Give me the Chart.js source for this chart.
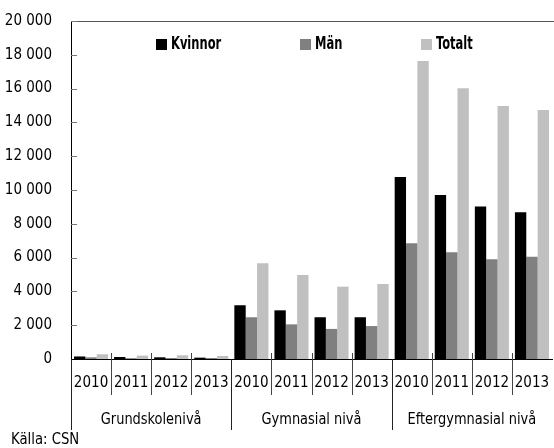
<!DOCTYPE html>
<html>
<head>
<meta charset="utf-8">
<script src="https://cdn.jsdelivr.net/npm/chart.js@4/dist/chart.umd.min.js"></script>
<style>
html,body{margin:0;padding:0;background:#fff;}
#wrap{position:relative;width:554px;height:448px;}
</style>
</head>
<body>
<div id="wrap"><canvas id="c" width="554" height="448"></canvas></div>
<script>
const years = ['2010','2011','2012','2013','2010','2011','2012','2013','2010','2011','2012','2013'];
const groups = ['Grundskolenivå','Gymnasial nivå','Eftergymnasial nivå'];
const seriesNames = ['Kvinnor','Män','Totalt'];
const kvinnor = [150,120,100,80, 3180,2880,2470,2470, 10770,9700,9030,8680];
const man     = [100,50,60,60, 2470,2050,1780,1950, 6850,6310,5900,6050];
const totalt  = [280,200,220,180, 5660,4970,4280,4440, 17630,16020,14970,14730];
const yTicks = [0,2000,4000,6000,8000,10000,12000,14000,16000,18000,20000];
const source = 'Källa: CSN';

const FONT = "'Liberation Sans Narrow','DejaVu Sans Condensed','Arial Narrow',sans-serif";
const colors = ['#000000','#808080','#c0c0c0'];

function fmt(v){ return String(v).replace(/\B(?=(\d{3})+(?!\d))/g,' '); }

function narrowText(ctx, text, x, y, sx, align){
  ctx.save();
  ctx.translate(x, y);
  ctx.scale(sx, 1);
  ctx.textAlign = align;
  ctx.fillText(text, 0, 0);
  ctx.restore();
}

const decor = {
  id:'decor',
  afterDraw(chart){
    const ctx = chart.ctx, a = chart.chartArea, x = chart.scales.x, y = chart.scales.y;
    ctx.save();
    // top border
    ctx.strokeStyle = '#555';
    ctx.lineWidth = 1;
    ctx.beginPath(); ctx.moveTo(a.left, Math.round(a.top)+0.5); ctx.lineTo(chart.width, Math.round(a.top)+0.5); ctx.stroke();
    // y ticks inside
    ctx.strokeStyle = '#777';
    yTicks.forEach(v=>{
      if(v===0) return;
      const py = Math.round(y.getPixelForValue(v))+0.5;
      ctx.beginPath(); ctx.moveTo(a.left, py); ctx.lineTo(a.left+6, py); ctx.stroke();
    });
    // x separators
    const n = years.length, w = (x.right - x.left)/n;
    for(let i=0;i<n;i++){
      const px = Math.round(x.left + i*w)+0.5;
      const isGroup = i%4===0;
      ctx.strokeStyle = isGroup ? '#222' : '#444';
      ctx.beginPath();
      ctx.moveTo(px, isGroup ? a.bottom : a.bottom-6);
      ctx.lineTo(px, isGroup ? a.bottom+71 : a.bottom+36);
      ctx.stroke();
    }
    // group labels
    ctx.fillStyle = '#000';
    ctx.font = "16px " + FONT;
    ctx.textBaseline = 'middle';
    groups.forEach((g,gi)=>{
      narrowText(ctx, g, x.left + (gi*4+2)*w, a.bottom+61, 0.9, 'center');
    });
    // source
    narrowText(ctx, source, 11, 440, 0.92, 'left');
    // legend
    const lx = [156, 300, 421];
    ctx.font = "bold 17px " + FONT;
    seriesNames.forEach((s,i)=>{
      ctx.fillStyle = colors[i];
      ctx.fillRect(lx[i], 39, 11, 11);
      ctx.fillStyle = '#000';
      narrowText(ctx, s, lx[i]+15, 45, 0.75, 'left');
    });
    ctx.restore();
  }
};

new Chart(document.getElementById('c'), {
  type:'bar',
  data:{
    labels: years,
    datasets:[
      {label:seriesNames[0], data:kvinnor, backgroundColor:colors[0]},
      {label:seriesNames[1], data:man, backgroundColor:colors[1]},
      {label:seriesNames[2], data:totalt, backgroundColor:colors[2]}
    ]
  },
  options:{
    responsive:false,
    animation:false,
    devicePixelRatio:1,
    layout:{padding:{top:21,right:2,left:0,bottom:0}},
    plugins:{legend:{display:false},tooltip:{enabled:false}},
    datasets:{bar:{categoryPercentage:0.85,barPercentage:1.0}},
    scales:{
      x:{
        grid:{display:false},
        border:{display:true,color:'#000',width:1},
        ticks:{font:{family:FONT,size:15},color:'#000',padding:7,maxRotation:0,autoSkip:false},
        afterFit(s){ s.height = 89; s.paddingLeft = 0; s.paddingRight = 0; }
      },
      y:{
        min:0,max:20000,
        grid:{display:false},
        border:{display:true,color:'#000',width:1},
        afterBuildTicks(s){ s.ticks = yTicks.map(v=>({value:v})); },
        ticks:{font:{family:FONT,size:15},color:'#000',padding:11,callback:(v)=>fmt(v)},
        afterFit(s){ s.width = 71; s.paddingTop = 0; s.paddingBottom = 0; }
      }
    }
  },
  plugins:[decor]
});
</script>
</body>
</html>
